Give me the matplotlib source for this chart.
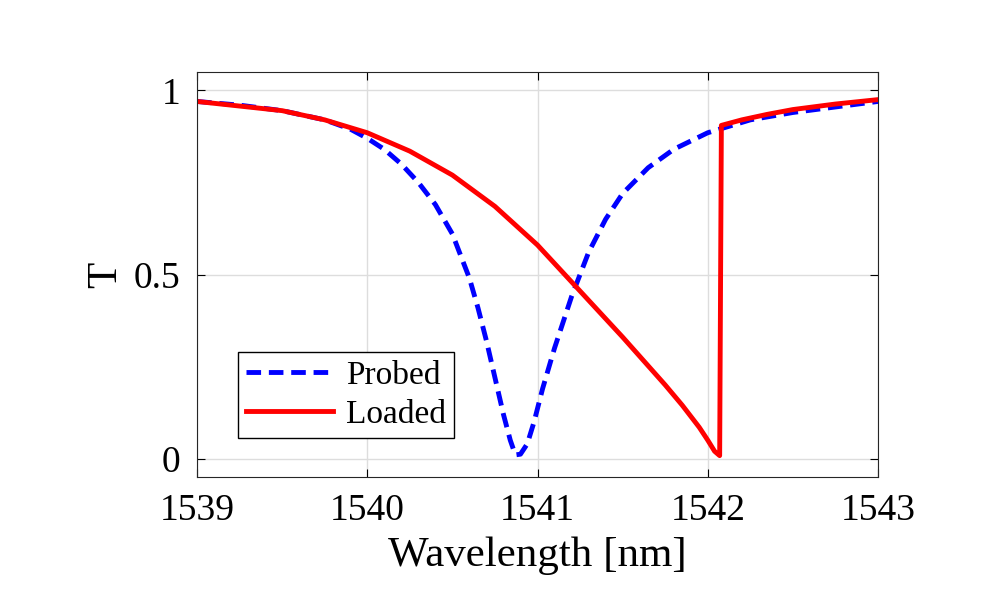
import numpy as np
import matplotlib
matplotlib.use("Agg")
import matplotlib.pyplot as plt

plt.rcParams['font.family'] = ['Liberation Serif', 'DejaVu Serif']

# Probed resonance (dashed blue)
wl_probed = [1539.0, 1539.25, 1539.5, 1539.75, 1539.9, 1540.0, 1540.1, 1540.2, 1540.3,
             1540.4, 1540.5, 1540.6, 1540.65, 1540.7, 1540.75, 1540.8, 1540.84,
             1540.87, 1540.9, 1540.94, 1540.98, 1541.03, 1541.1, 1541.2, 1541.3,
             1541.4, 1541.5, 1541.65, 1541.8, 1542.0, 1542.25, 1542.5, 1542.75, 1543.0]
t_probed = [0.97, 0.96, 0.945, 0.92, 0.895, 0.87, 0.84, 0.80, 0.75,
            0.69, 0.61, 0.49, 0.41, 0.32, 0.22, 0.12, 0.05,
            0.01, 0.012, 0.04, 0.10, 0.19, 0.30, 0.44, 0.56,
            0.65, 0.72, 0.79, 0.84, 0.885, 0.92, 0.94, 0.955, 0.97]

# Loaded (thermally shifted) resonance (solid red)
wl_loaded = [1539.0, 1539.5, 1539.75, 1540.0, 1540.25, 1540.5, 1540.75, 1541.0, 1541.25,
             1541.5, 1541.75, 1541.85, 1541.95, 1542.0, 1542.04, 1542.07, 1542.08,
             1542.2, 1542.35, 1542.5, 1542.75, 1543.0]
t_loaded = [0.97, 0.945, 0.92, 0.885, 0.835, 0.77, 0.685, 0.58, 0.455,
            0.33, 0.20, 0.145, 0.085, 0.05, 0.02, 0.008, 0.905,
            0.92, 0.935, 0.948, 0.963, 0.975]

fig = plt.figure(figsize=(10, 6), dpi=100)
ax = fig.add_axes([0.197, 0.205, 0.681, 0.675])

ax.plot(wl_probed, t_probed, '--', color='blue', lw=3.5, dashes=(3, 1.6), label='Probed')
ax.plot(wl_loaded, t_loaded, '-', color='red', lw=3.5, label='Loaded')

ax.set_xlim(1539, 1543)
ax.set_ylim(-0.05, 1.05)
ax.set_xticks([1539, 1540, 1541, 1542, 1543])
ax.set_yticks([0, 0.5, 1])
ax.set_yticklabels(['0', '0.5', '1'])
ax.grid(True, color='#dddddd', lw=1)
ax.tick_params(direction='in', top=True, right=True, labelsize=27, length=6, pad=12)
for s in ax.spines.values():
    s.set_color('#262626')
ax.set_xlabel('Wavelength [nm]', fontsize=31, labelpad=6)
ax.set_ylabel('T', fontsize=31, labelpad=6)

leg = ax.legend(loc='lower left', bbox_to_anchor=(0.035, 0.055), fontsize=24, fancybox=False,
                framealpha=1, edgecolor='black', handlelength=2.6, borderpad=0.25,
                labelspacing=0.25, handletextpad=0.4)
leg.get_frame().set_linewidth(1)

fig.savefig('out.png', dpi=100)
